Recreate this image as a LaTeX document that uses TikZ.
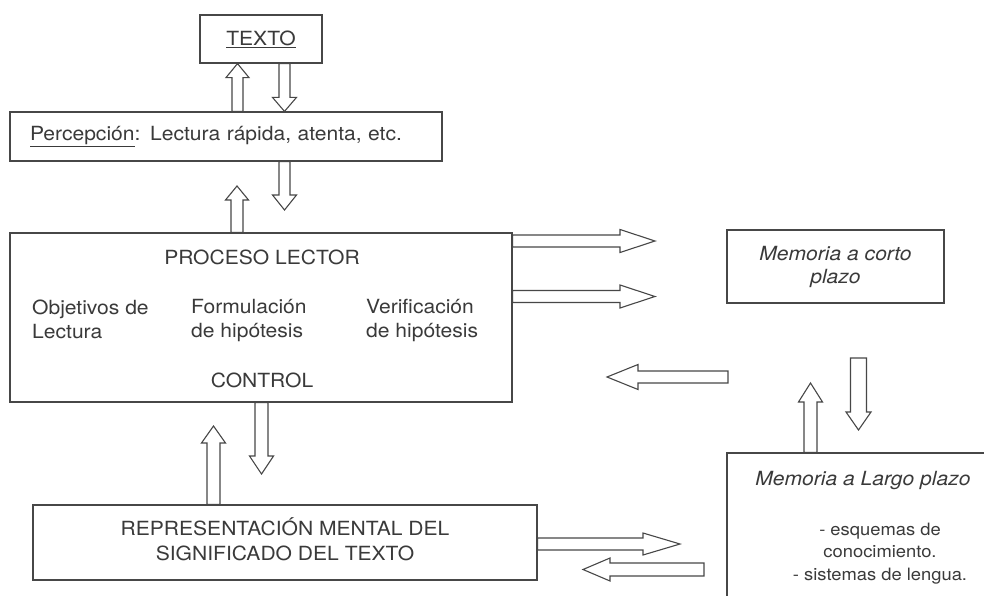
\documentclass[tikz,border=0pt]{standalone}
\usepackage{fontspec}
\setmainfont{TeX Gyre Heros}[FakeStretch=1.08]
\usetikzlibrary{calc}
\definecolor{ink}{HTML}{3A3A3A}
\definecolor{edge}{HTML}{474747}
\tikzset{
  box/.style={draw=edge, line width=1.2pt, fill=white, inner sep=0pt},
  blk/.style={draw=edge, line width=1.1pt, fill=white, line join=miter},
  txt/.style={text=ink, font=\fontsize{19.5}{24}\selectfont, inner sep=0pt},
  itxt/.style={text=ink, font=\fontsize{19.5}{23}\selectfont\itshape, inner sep=0pt},
}
% #1 start, #2 tip, #3 shaft half width, #4 head half width, #5 head length
\newcommand\blockarrow[5]{%
  \coordinate (hs) at #1;
  \coordinate (he) at #2;
  \coordinate (hb) at ($(he)!#5pt!(hs)$);
  \draw[blk] ($(hs)!#3pt!90:(he)$) -- ($(hb)!#3pt!90:(he)$) -- ($(hb)!#4pt!90:(he)$)
    -- (he) -- ($(hb)!#4pt!-90:(he)$) -- ($(hb)!#3pt!-90:(he)$) -- ($(hs)!#3pt!-90:(he)$) -- cycle;}
\begin{document}
\begin{tikzpicture}[x=1pt, y=-1pt]
\fill[white] (0,0) rectangle (984,596);
\useasboundingbox (0,0) rectangle (984,596);

% boxes
\node[box, txt, minimum width=122pt, minimum height=48pt] (texto) at (261,39) {\underline{TEXTO}};
\node[box, txt, text width=392pt, align=left, inner xsep=20pt, minimum height=49pt] (percep) at (226,136.5)
  {\underline{Percepción}: Lectura rápida, atenta, etc.};
\node[box, minimum width=502pt, minimum height=169pt] (pl) at (261,317.5) {};
\node[txt, anchor=base] (plt) at (262,264) {PROCESO LECTOR};
\node[txt, anchor=north west, align=left] (obj) at (32,299.5) {Objetivos de\\Lectura};
\node[txt, anchor=north west, align=left] (form) at (191,299.5) {Formulación\\de hipótesis};
\node[txt, anchor=north west, align=left] (verif) at (366,299.5) {Verificación\\de hipótesis};
\node[txt, anchor=base] (ctrl) at (262,387) {CONTROL};

\node[box, minimum width=504pt, minimum height=75pt] (rep) at (285,542.5) {};
\node[txt, font=\fontsize{19.5}{25}\selectfont, align=center] (rept) at (285,539)
  {REPRESENTACIÓN MENTAL DEL\\SIGNIFICADO DEL TEXTO};

\node[box, itxt, minimum width=217pt, minimum height=73pt, align=center] (mcp) at (835.5,266.5)
  {Memoria a corto\\plazo};

\node[box, minimum width=290pt, minimum height=170pt] (mlp) at (872,538) {};
\node[itxt, anchor=base] (mlpt) at (863,485) {Memoria a Largo plazo};
\node[txt, font=\fontsize{17}{22.5}\selectfont, align=center, anchor=north] (mlpl) at (880,522.8)
  {- esquemas de\\conocimiento.\\- sistemas de lengua.};

% helper columns / rows
\coordinate (xa) at (237.5,0);
\coordinate (xb) at (284.5,0);
\coordinate (xc) at (810.5,0);
\coordinate (xd) at (261.5,0);
\coordinate (xe) at (213.5,0);
\coordinate (ya) at (0,241);
\coordinate (yb) at (0,296.5);
\coordinate (yc) at (0,544);
% free ends
\coordinate (a3e) at (284.5,210);
\coordinate (a4e) at (237,186);
\coordinate (a5e) at (655,241);
\coordinate (a6e) at (655,296.5);
\coordinate (a7s) at (728,377);
\coordinate (a7e) at (607,377);
\coordinate (a8s) at (858.5,358);
\coordinate (a8e) at (858.5,430);
\coordinate (a9e) at (810.5,383);
\coordinate (a10e) at (261.5,474);
\coordinate (a11e) at (213.5,426);
\coordinate (a12e) at (680,544);
\coordinate (a13s) at (704,569.5);
\coordinate (a13e) at (583,569.5);

% arrows
\blockarrow{(percep.north -| xa)}{(texto.south -| xa)}{5.5}{11.5}{14}
\blockarrow{(texto.south -| xb)}{(percep.north -| xb)}{5.5}{12}{14}
\blockarrow{(percep.south -| xb)}{(a3e)}{5.5}{12}{15}
\blockarrow{(pl.north -| a4e)}{(a4e)}{6}{11.5}{14}
\blockarrow{(pl.east |- ya)}{(a5e)}{6}{11.5}{35}
\blockarrow{(pl.east |- yb)}{(a6e)}{6}{11.5}{35}
\blockarrow{(a7s)}{(a7e)}{6}{12.5}{31}
\blockarrow{(a8s)}{(a8e)}{8}{12.5}{18}
\blockarrow{(mlp.north -| xc)}{(a9e)}{6.5}{12}{19}
\blockarrow{(pl.south -| xd)}{(a10e)}{6.5}{12}{18}
\blockarrow{(rep.north -| xe)}{(a11e)}{6.5}{12}{17}
\blockarrow{(rep.east |- yc)}{(a12e)}{6}{11}{37}
\blockarrow{(a13s)}{(a13e)}{6.5}{11.5}{27}
\end{tikzpicture}
\end{document}
